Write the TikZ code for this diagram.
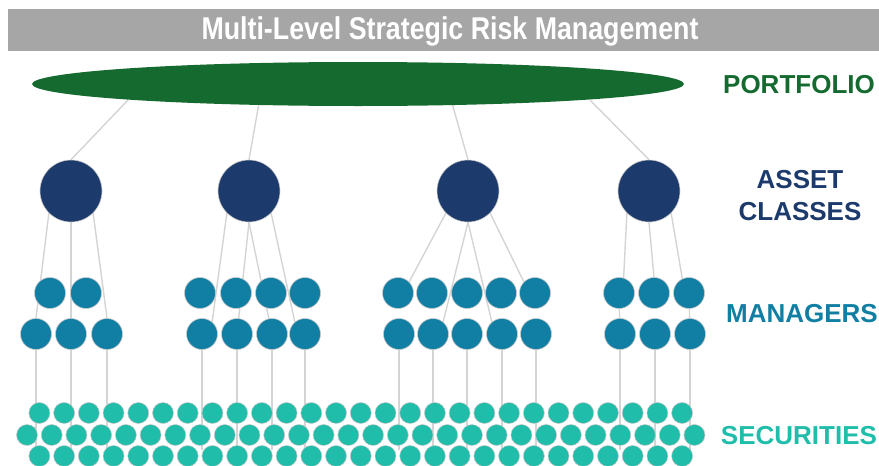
\documentclass[tikz,border=0pt]{standalone}
\usepackage{fontspec}
\setmainfont{Liberation Sans}
\newfontfamily\titlefont{Liberation Sans}[FakeStretch=0.85]
\usetikzlibrary{shapes.geometric,backgrounds}
\definecolor{bargray}{RGB}{166,166,166}
\definecolor{pfgreen}{RGB}{20,106,47}
\definecolor{acnavy}{RGB}{28,58,108}
\definecolor{mgblue}{RGB}{17,127,163}
\definecolor{secteal}{RGB}{32,189,170}
\definecolor{linkgray}{RGB}{212,212,212}
\definecolor{rimgray}{RGB}{200,200,200}
\tikzset{
  assetnode/.style={circle,fill=acnavy,draw=rimgray,line width=0.6pt,minimum size=62pt,inner sep=0pt},
  mgrnode/.style={circle,fill=mgblue,draw=rimgray,line width=0.6pt,minimum size=31pt,inner sep=0pt},
  secnode/.style={circle,fill=secteal,draw=rimgray,line width=0.5pt,minimum size=21pt,inner sep=0pt},
  link/.style={draw=linkgray,line width=1.4pt},
  levellabel/.style={font=\fontsize{26}{32}\selectfont\bfseries,align=center,inner sep=0pt}
}
\begin{document}
\begin{tikzpicture}[x=1pt,y=-1pt]
\useasboundingbox (0,0) rectangle (879,466);
% title
\node[fill=bargray,minimum width=871pt,minimum height=42pt,inner sep=0pt,anchor=north west] (bar) at (8,9) {};
\node[text=white,font=\titlefont\fontsize{31.5}{31.5}\selectfont\bfseries] (title) at (450,31) {Multi-Level Strategic Risk Management};
% portfolio
\node[ellipse,fill=pfgreen,minimum width=652pt,minimum height=44pt,inner sep=0pt] (pf) at (358,84) {};
\node[levellabel,text=pfgreen] (lpf) at (799,85) {PORTFOLIO};
% asset classes
\node[assetnode] (a1) at (71,191) {};
\node[assetnode] (a2) at (249,191) {};
\node[assetnode] (a3) at (468,191) {};
\node[assetnode] (a4) at (649,191) {};
\node[levellabel,text=acnavy] (lac) at (800,196) {ASSET\\CLASSES};
% managers
\foreach \n/\x/\y in {m111/50/293,m112/86/293,m121/36/334,m122/71/334,m123/107/334,
  m211/200/293,m212/236/293,m213/271/293,m214/305/293,m221/202/334,m222/237/334,m223/272/334,m224/305/334,
  m311/398/293,m312/432/293,m313/467/293,m314/501/293,m315/535/293,m321/399/334,m322/433/334,m323/467/334,m324/502/334,m325/536/334,
  m411/619/293,m412/654/293,m413/689/293,m421/620/334,m422/655/334,m423/690/334}
  \node[mgrnode] (\n) at (\x,\y) {};
\node[levellabel,text=mgblue] (lmg) at (802,314) {MANAGERS};
% securities
\foreach \k in {0,...,26} {
  \node[secnode] (s1-\k) at (39.4+24.72*\k,413) {};
  \node[secnode] (s3-\k) at (39.4+24.72*\k,456) {};
}
\foreach \k in {0,...,27}
  \node[secnode] (s2-\k) at (27+24.72*\k,435) {};
\node[levellabel,text=secteal] (lsec) at (799,436) {SECURITIES};
% end points
\coordinate (p1) at (128,100);
\coordinate (p2) at (259,103);
\coordinate (p3) at (452,103);
\coordinate (p4) at (590,100);
\begin{pgfonlayer}{background}
  \draw[link] (p1) -- (a1.north);
  \draw[link] (p2) -- (a2.north);
  \draw[link] (p3) -- (a3.north);
  \draw[link] (p4) -- (a4.north);
  % group 1
  \draw[link] (a1.225) -- (m121.north);
  \draw[link] (a1.south) -- (m122.center);
  \draw[link] (a1.-45) -- (m123.north);
  % group 2
  \draw[link] (a2.225) -- (m221.50);
  \draw[link] (a2.south) -- (m222.center);
  \draw[link] (a2.south) -- (m223.center);
  \draw[link] (a2.-45) -- (m224.130);
  % group 3
  \draw[link] (a3.225) -- (m311.45);
  \draw[link] (a3.south) -- (m322.50);
  \draw[link] (a3.south) -- (m324.130);
  \draw[link] (a3.-45) -- (m315.135);
  % group 4
  \draw[link] (a4.225) -- (m411.73);
  \draw[link] (a4.south) -- (m412.north);
  \draw[link] (a4.-45) -- (m413.115);
  \draw[link] (m411.center) -- (m421.center);
  \draw[link] (m413.center) -- (m423.center);
  % managers to securities
  \foreach \n in {m121,m122,m123,m221,m222,m223,m224,m321,m322,m323,m324,m325,m421,m422,m423} {
    \path (\n.center) ++(0,116) coordinate (\n-end);
    \draw[link] (\n.center) -- (\n-end);
  }
\end{pgfonlayer}
\end{tikzpicture}
\end{document}
